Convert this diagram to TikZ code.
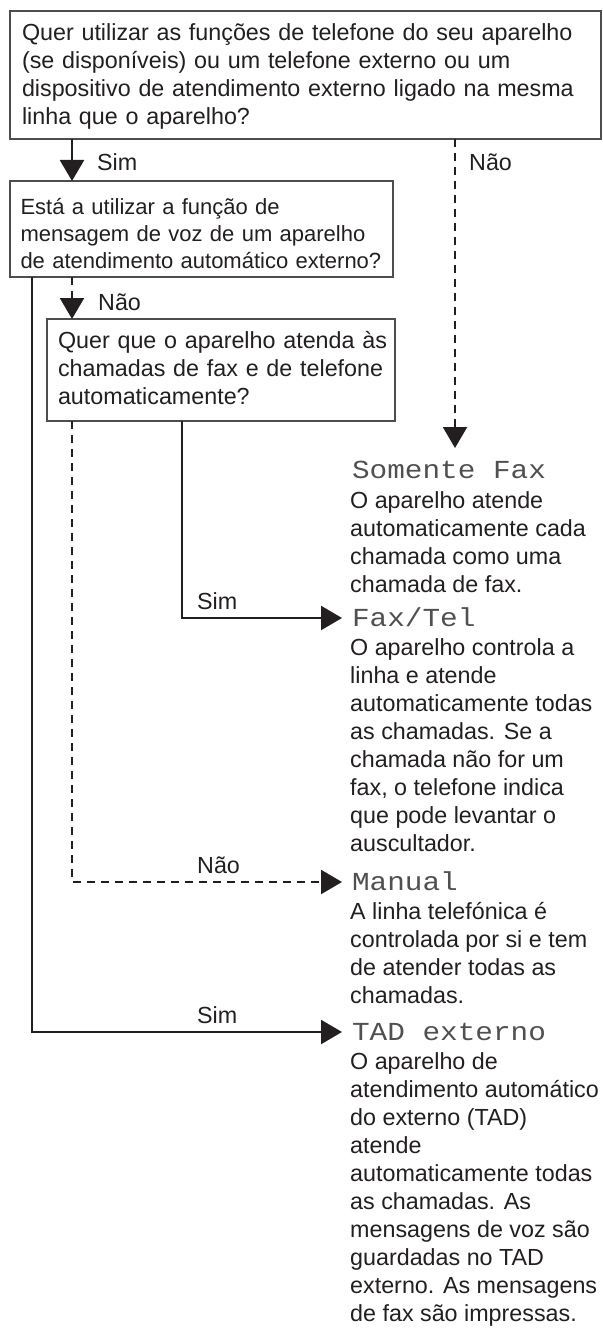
\documentclass[tikz,border=0pt]{standalone}
\usepackage{fontspec}
\setmainfont{Liberation Sans}
\newfontfamily\lcdfont[FakeStretch=1.13]{Liberation Mono}
\usetikzlibrary{arrows.meta}
\definecolor{ink}{HTML}{231F20}
\definecolor{frame}{HTML}{4D4D4D}
\definecolor{lcdgray}{HTML}{505050}
\newcommand\bodyfnt{\fontsize{23.3}{28}\selectfont}
\newcommand\boxfntb{\fontsize{22}{27}\selectfont}
\newcommand\lcdfnt{\fontsize{26}{28}\selectfont\lcdfont}
\begin{document}
\begin{tikzpicture}[x=1pt,y=-1pt,
  qbox/.style={draw=frame, line width=1.4pt, anchor=north west, inner ysep=0pt, outer sep=0pt, align=left, text=ink},
  conn/.style={draw=ink, line width=2.3pt},
  arr/.style={-{Triangle[length=21pt,width=24pt]}},
  dsh/.style={dash pattern=on 8pt off 6pt},
  lcd/.style={anchor=west, inner sep=0pt, outer sep=0pt, text height=17pt, text depth=0pt, font=\lcdfnt, text=lcdgray},
  desc/.style={anchor=north west, inner sep=0pt, align=left, font=\bodyfnt, text=ink},
  lbl/.style={anchor=base west, inner sep=0pt, font=\bodyfnt, text=ink}]
\useasboundingbox (0,0) rectangle (602,1332);

% question boxes
\node[qbox, font=\bodyfnt, text width=567pt, inner xsep=12pt] (b1) at (10,11)
  {\rule{0pt}{29.5pt}\mbox{Quer utilizar as funções de telefone do seu aparelho}\\
   \mbox{(se disponíveis) ou um telefone externo ou um}\\
   \mbox{dispositivo de atendimento externo ligado na mesma}\\
   linha que o aparelho?\rule[-14.5pt]{0pt}{14.5pt}};
\node[qbox, font=\boxfntb, text width=362pt, inner xsep=10.5pt] (b2) at (10,181)
  {\rule{0pt}{34pt}Está a utilizar a função de\\
   \mbox{mensagem de voz de um aparelho}\\
   \mbox{de atendimento automático externo?}\rule[-8pt]{0pt}{8pt}};
\node[qbox, font=\bodyfnt, text width=326pt, inner xsep=11pt] (b3) at (47,319)
  {\rule{0pt}{29pt}\mbox{Quer que o aparelho atenda às}\\
   \mbox{chamadas de fax e de telefone}\\
   automaticamente?\rule[-17pt]{0pt}{17pt}};

% mode labels
\node[lcd] (somente) at (352,470) {Somente Fax};
\node[lcd] (faxtel) at (352,618) {Fax/Tel};
\node[lcd] (manual) at (352,882) {Manual};
\node[lcd] (tad) at (352,1032) {TAD externo};

% descriptions
\node[desc] (dsom) at (350,486) {\rule{0pt}{22pt}O aparelho atende\\
  automaticamente cada\\chamada como uma\\chamada de fax.};
\node[desc] (dfax) at (350,633) {\rule{0pt}{22pt}O aparelho controla a\\
  linha e atende\\automaticamente todas\\as chamadas. Se a\\
  chamada não for um\\fax, o telefone indica\\que pode levantar o\\auscultador.};
\node[desc] (dman) at (350,897) {\rule{0pt}{22pt}A linha telefónica é\\
  controlada por si e tem\\de atender todas as\\chamadas.};
\node[desc] (dtad) at (350,1047) {\rule{0pt}{22pt}O aparelho de\\
  atendimento automático\\do externo (TAD)\\atende\\automaticamente todas\\
  as chamadas. As\\mensagens de voz são\\guardadas no TAD\\
  externo. As mensagens\\de fax são impressas.};

% connector labels
\node[lbl] (s1) at (97,171) {Sim};
\node[lbl] (n1) at (469,171) {Não};
\node[lbl] (n2) at (98,310) {Não};
\node[lbl] (s2) at (197,609) {Sim};
\node[lbl] (n3) at (197,873) {Não};
\node[lbl] (s3) at (197,1023) {Sim};

% connector columns
\coordinate (xa) at (72,0);
\coordinate (xb) at (32,0);
\coordinate (xc) at (182,0);
\coordinate (xd) at (455,0);

\draw[conn,arr] (b1.south -| xa) -- (b2.north -| xa);
\draw[conn,dsh,arr,shorten >=13.5pt] (b1.south -| xd) -- (somente.north -| xd);
\draw[conn,dsh,arr] (b2.south -| xa) -- (b3.north -| xa);
\draw[conn,arr] (b2.south -| xb) |- ([xshift=-10pt]tad.west);
\draw[conn,arr] (b3.south -| xc) |- ([xshift=-10pt]faxtel.west);
\draw[conn,dsh,arr] (b3.south -| xa) |- ([xshift=-10pt]manual.west);
\end{tikzpicture}
\end{document}
